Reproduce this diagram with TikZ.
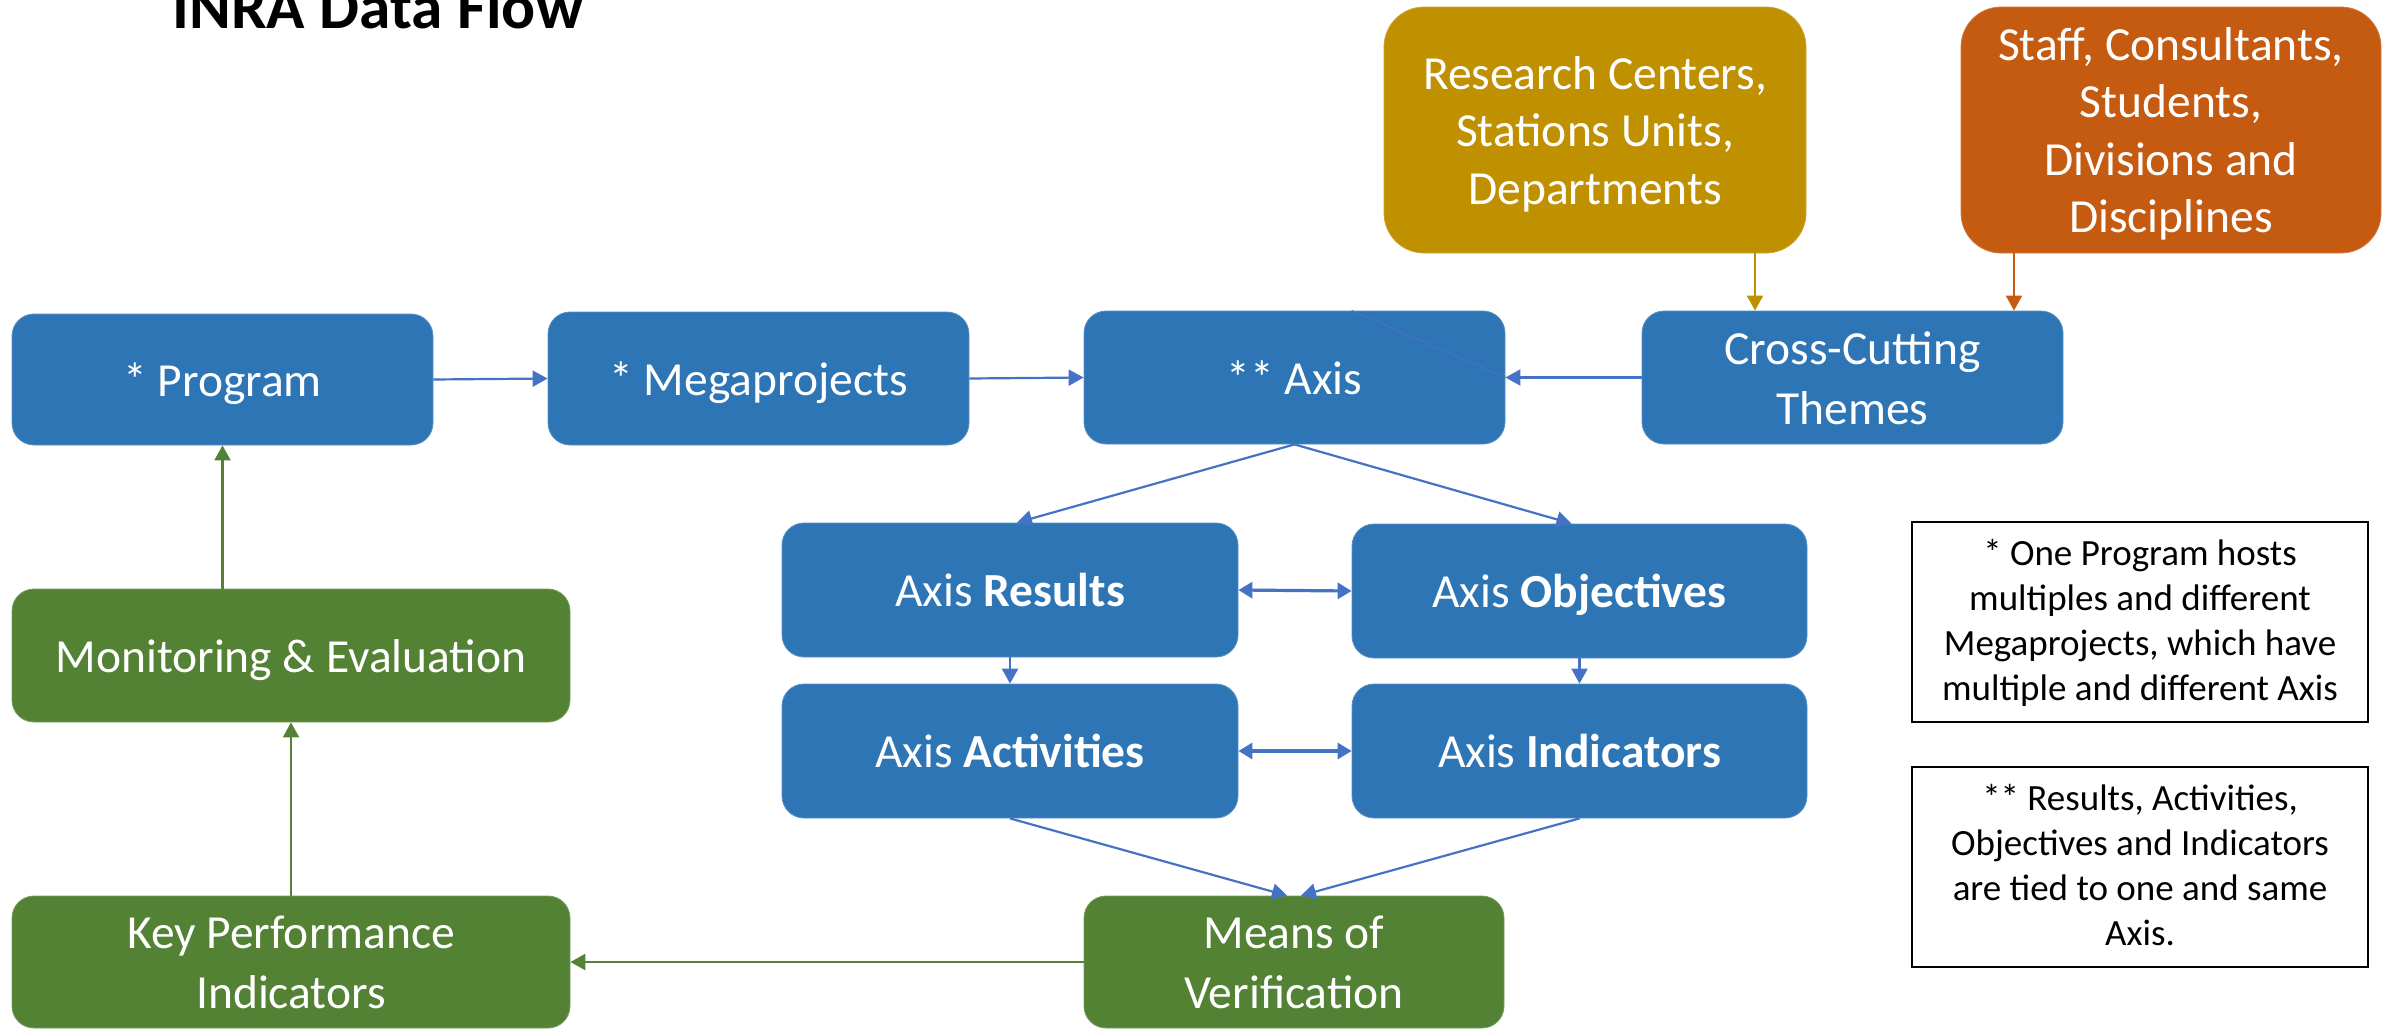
\documentclass[tikz,border=0pt]{standalone}
\usepackage{fontspec}
\setmainfont{Carlito}
\usetikzlibrary{arrows.meta,calc}
\definecolor{boxblue}{HTML}{2E75B6}
\definecolor{boxgreen}{HTML}{548235}
\definecolor{boxgold}{HTML}{BF9000}
\definecolor{boxorange}{HTML}{C55A11}
\definecolor{lineblue}{HTML}{4472C4}
\newcommand\bxfont{\fontsize{23.75pt}{28.75pt}\selectfont}
\newcommand\ntfont{\fontsize{18.5pt}{22.5pt}\selectfont}
\newcommand\ttlfont{\fontsize{31.7pt}{38pt}\selectfont\bfseries}
\newcommand\bs{\rule[-6.2pt]{0pt}{29pt}}
\newcommand\ns{\rule[-5.9pt]{0pt}{22.5pt}}
\begin{document}
\begin{tikzpicture}[x=0.5pt,y=-0.5pt,
  sz/.style 2 args={minimum width=#1*0.5pt, minimum height=#2*0.5pt},
  fbox/.style={rounded corners=11pt, inner sep=0pt, align=center, text=white,
    font=\bxfont, fill=#1, draw=#1!80!white, line width=0.4pt},
  bigbox/.style={fbox=#1, rounded corners=20pt},
  notebox/.style={draw=black, line width=0.8pt, fill=white, inner sep=0pt,
    align=center, font=\ntfont, text=black},
  conn/.style={draw=#1, line width=1.1pt, -{Triangle[length=7.5pt,width=8pt]}},
  dconn/.style={draw=#1, line width=1.6pt, {Triangle[length=7pt,width=8pt]}-{Triangle[length=7pt,width=8pt]}}
]
\useasboundingbox (0,0) rectangle (2382,1029);

% title
\node[anchor=base west, font=\ttlfont, inner sep=0pt] (title) at (172,28) {INRA Data Flow};

% top row
\node[fbox=boxblue, sz={421}{131}] (prog) at (222.5,379.5) {\bs* Program\bs};
\node[fbox=boxblue, sz={421}{133}] (mega) at (758.5,378.5) {\bs* Megaprojects\bs};
\node[fbox=boxblue, sz={421}{133}] (axis) at (1294.5,377.5) {\bs** Axis\bs};
\node[fbox=boxblue, sz={421}{133}] (cct) at (1852.5,377.5) {\bs Cross-Cutting\\Themes\bs};

% sources
\node[bigbox=boxgold, sz={422}{246}] (res) at (1595,130) {\bs Research Centers,\\Stations Units,\\Departments\bs};
\node[bigbox=boxorange, sz={420}{246}] (staff) at (2171,130) {\bs Staff, Consultants,\\Students,\\Divisions and\\Disciplines\bs};

% axis parts
\node[fbox=boxblue, sz={456}{134}] (resu) at (1010,590) {\bs Axis \textbf{Results}\bs};
\node[fbox=boxblue, sz={455}{134}] (obj) at (1579.5,591) {\bs Axis \textbf{Objectives}\bs};
\node[fbox=boxblue, sz={456}{134}] (act) at (1010,751) {\bs Axis \textbf{Activities}\bs};
\node[fbox=boxblue, sz={455}{134}] (ind) at (1579.5,751) {\bs Axis \textbf{Indicators}\bs};

% green boxes
\node[fbox=boxgreen, sz={558}{133}] (me) at (291,655.5) {\bs Monitoring \& Evaluation\bs};
\node[fbox=boxgreen, sz={558}{132}] (kpi) at (291,962) {\bs Key Performance\\Indicators\bs};
\node[fbox=boxgreen, sz={420}{132}] (mov) at (1294,962) {\bs Means of\\Verification\bs};

% notes
\node[notebox, sz={456}{200}] (n1) at (2140,622) {\ns* One Program hosts\\multiples and different\\Megaprojects, which have\\multiple and different Axis\ns};
\node[notebox, sz={456}{200}] (n2) at (2140,867) {\ns** Results, Activities,\\Objectives and Indicators\\are tied to one and same\\Axis.\ns};

% connectors
\draw[conn=lineblue] (prog.east) -- (mega.west);
\draw[conn=lineblue] (mega.east) -- (axis.west);
\draw[conn=lineblue] (cct.west) -- (axis.east);
\coordinate (dg) at ($(axis.north west)+(268,0)$);
\draw[lineblue, line width=0.7pt] (dg) -- (axis.east);

\coordinate (rs) at ($(res.south)+(160,0)$);
\draw[conn=boxgold] (rs) -- (rs |- cct.north);
\coordinate (ss) at ($(staff.south)+(-157,0)$);
\draw[conn=boxorange] (ss) -- (ss |- cct.north);

\draw[conn=lineblue] (axis.south) -- ($(resu.north)+(7,0)$);
\draw[conn=lineblue] (axis.south) -- ($(obj.north)+(-8,0)$);
\draw[conn=lineblue] (resu.south) -- (act.north);
\draw[conn=lineblue] (obj.south) -- (ind.north);
\draw[dconn=lineblue] (resu.east) -- (obj.west);
\draw[dconn=lineblue] (act.east) -- (ind.west);
\draw[conn=lineblue] (act.south) -- ($(mov.north)+(-7,0)$);
\draw[conn=lineblue] (ind.south) -- ($(mov.north)+(7,0)$);

\draw[conn=boxgreen] (mov.west) -- (kpi.east);
\draw[conn=boxgreen] (kpi.north) -- (me.south);
\coordinate (mp) at (prog.south |- me.north);
\draw[conn=boxgreen] (mp) -- (prog.south);
\end{tikzpicture}
\end{document}
